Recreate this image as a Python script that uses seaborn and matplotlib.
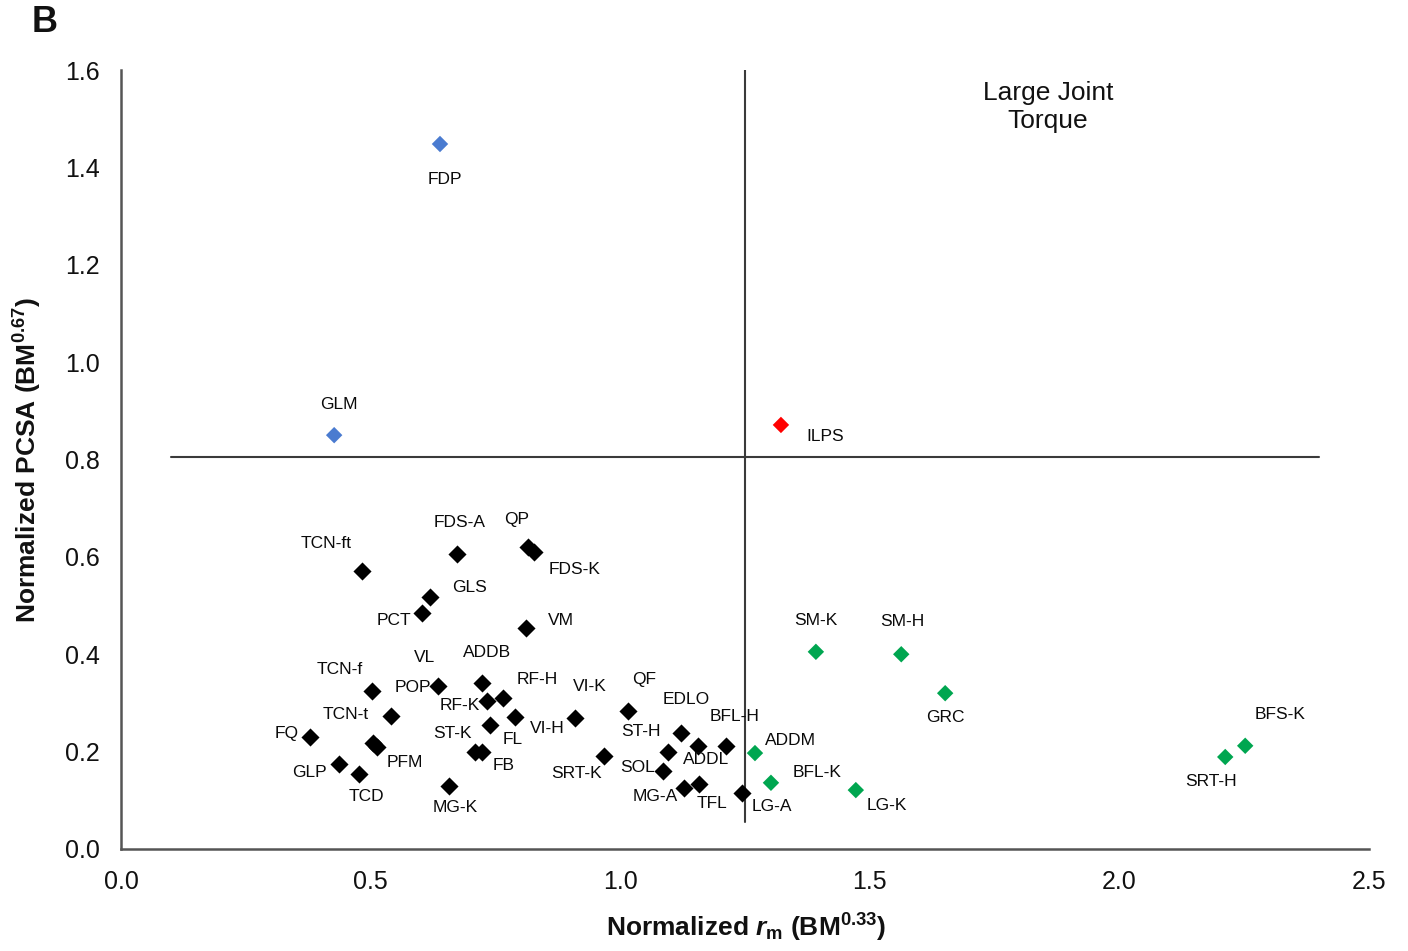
import matplotlib
matplotlib.use("Agg")
import matplotlib.pyplot as plt
import seaborn as sns
import pandas as pd

# ---------------- data ----------------
black_names = ["TCN-ft", "FDS-A", "QP", "FDS-K", "GLS", "PCT", "VM", "VL", "ADDB", "TCN-f",
               "RF-K", "RF-H", "POP", "VI-H", "FL", "VI-K", "FQ", "TCN-t", "PFM", "ST-K",
               "FB", "GLP", "TCD", "MG-K", "SRT-K", "QF", "EDLO", "ADDL", "ST-H", "BFL-H",
               "SOL", "MG-A", "TFL", "LG-A"]
black_rm = [0.483, 0.673, 0.815, 0.827, 0.619, 0.603, 0.811, 0.635, 0.723, 0.503,
            0.733, 0.765, 0.541, 0.789, 0.739, 0.909, 0.379, 0.505, 0.513, 0.709,
            0.723, 0.437, 0.477, 0.657, 0.968, 1.016, 1.122, 1.156, 1.096, 1.212,
            1.086, 1.128, 1.158, 1.244]
black_pcsa = [0.571, 0.606, 0.620, 0.610, 0.518, 0.485, 0.454, 0.335, 0.341, 0.325,
              0.304, 0.310, 0.273, 0.271, 0.255, 0.269, 0.230, 0.218, 0.209, 0.199,
              0.199, 0.175, 0.154, 0.129, 0.191, 0.283, 0.238, 0.212, 0.199, 0.212,
              0.160, 0.125, 0.133, 0.115]

green_names = ["SM-K", "SM-H", "GRC", "ADDM", "BFL-K", "LG-K", "SRT-H", "BFS-K"]
green_rm = [1.392, 1.563, 1.651, 1.270, 1.302, 1.472, 2.212, 2.252]
green_pcsa = [0.405, 0.400, 0.320, 0.197, 0.136, 0.121, 0.189, 0.212]

blue_names = ["FDP", "GLM"]
blue_rm = [0.639, 0.427]
blue_pcsa = [1.448, 0.850]

red_names = ["ILPS"]
red_rm = [1.322]
red_pcsa = [0.871]

x_ticks = [0.0, 0.5, 1.0, 1.5, 2.0, 2.5]
y_ticks = [0.0, 0.2, 0.4, 0.6, 0.8, 1.0, 1.2, 1.4, 1.6]

# threshold lines
rm_threshold = 1.25
pcsa_threshold = 0.805

# label offsets (pixels: right, down)
label_offsets = {
    "TCN-ft": (-36, -27), "FDS-A": (3, -31), "QP": (-11, -28), "FDS-K": (41, 17),
    "GLS": (39, -9), "PCT": (-28, 8), "VM": (35, -7), "VL": (-13, -28), "ADDB": (5, -30),
    "TCN-f": (-32, -21), "RF-K": (-27, 5), "RF-H": (34, -19), "POP": (22, -29),
    "VI-H": (32, 11), "FL": (23, 15), "VI-K": (15, -32), "FQ": (-24, -4),
    "TCN-t": (-27, -28), "PFM": (28, 15), "ST-K": (-22, -19), "FB": (22, 13),
    "GLP": (-30, 9), "TCD": (7, 22), "MG-K": (6, 21), "SRT-K": (-28, 17),
    "QF": (16, -32), "EDLO": (5, -34), "ADDL": (8, 14), "ST-H": (-27, -21),
    "BFL-H": (9, -29), "SOL": (-26, -4), "MG-A": (-29, 8), "TFL": (13, 19),
    "LG-A": (30, 13),
    "SM-K": (0, -31), "SM-H": (1, -33), "GRC": (0, 24), "ADDM": (35, -13),
    "BFL-K": (46, -10), "LG-K": (31, 15), "SRT-H": (-14, 25), "BFS-K": (35, -31),
    "FDP": (5, 35), "GLM": (5, -31), "ILPS": (44, 12),
}

# ---------------- build table ----------------
rows = []
for grp, names, xs, ys in [("black", black_names, black_rm, black_pcsa),
                           ("green", green_names, green_rm, green_pcsa),
                           ("blue", blue_names, blue_rm, blue_pcsa),
                           ("red", red_names, red_rm, red_pcsa)]:
    for n, xv, yv in zip(names, xs, ys):
        rows.append({"group": grp, "name": n, "rm": xv, "pcsa": yv})
df = pd.DataFrame(rows)

palette = {"black": "#000000", "green": "#00A650", "blue": "#4A7BD0", "red": "#FF0000"}

# ---------------- style ----------------
sns.set_style("white")
plt.rcParams["font.family"] = ["Liberation Sans", "DejaVu Sans"]
plt.rcParams["mathtext.fontset"] = "custom"
plt.rcParams["mathtext.rm"] = "Liberation Sans:bold"
plt.rcParams["mathtext.bf"] = "Liberation Sans:bold"
plt.rcParams["mathtext.it"] = "Liberation Sans:italic:bold"

fig = plt.figure(figsize=(14.08, 9.51), dpi=100)
ax = fig.add_axes([121 / 1408, 1 - 849 / 951, 1248 / 1408, 779 / 951])

spine_col = "#555555"
line_col = "#3a3a3a"

# threshold lines
ax.plot([rm_threshold, rm_threshold], [0.055, 1.6], color=line_col, lw=1.5, zorder=1)
ax.plot([0.1, 2.4], [pcsa_threshold, pcsa_threshold], color=line_col, lw=1.5, zorder=1)

sns.scatterplot(data=df[df.group == "black"], x="rm", y="pcsa", color=palette["black"],
                marker="D", s=85, linewidth=0, ax=ax, zorder=3, legend=False)
sns.scatterplot(data=df[df.group != "black"], x="rm", y="pcsa", hue="group",
                palette=palette, marker="D", s=70, linewidth=0, ax=ax, zorder=3,
                legend=False)

px2pt = 0.72
for _, r in df.iterrows():
    dx, dy = label_offsets[r["name"]]
    ax.annotate(r["name"], (r["rm"], r["pcsa"]), xytext=(dx * px2pt, -dy * px2pt),
                textcoords="offset points", ha="center", va="center",
                fontsize=12.5, color="#0a0a0a", zorder=4)

ax.text(1.857, 1.524, "Large Joint\nTorque", ha="center", va="center",
        fontsize=19, linespacing=1.2, color="#111111")

ax.set_xlim(0, 2.5)
ax.set_ylim(0, 1.6)
ax.set_xticks(x_ticks)
ax.set_yticks(y_ticks)
ax.set_xticklabels([f"{v:.1f}" for v in x_ticks])
ax.set_yticklabels([f"{v:.1f}" for v in y_ticks])

for s in ["top", "right"]:
    ax.spines[s].set_visible(False)
for s in ["left", "bottom"]:
    ax.spines[s].set_color(spine_col)
    ax.spines[s].set_linewidth(1.8)
ax.tick_params(axis="both", direction="out", length=7, width=1.5, color=spine_col,
               labelsize=18, labelcolor="#111111", pad=8)

ax.set_xlabel(r"Normalized $r_{\mathrm{m}}$ (BM$^{0.33}$)", fontsize=19,
              fontweight="bold", color="#111111")
ax.set_ylabel(r"Normalized PCSA (BM$^{0.67}$)", fontsize=19,
              fontweight="bold", color="#111111")
ax.xaxis.set_label_coords(0.5008, -0.080)
ax.yaxis.set_label_coords(-0.062, 0.5)

fig.text(45 / 1408, 1 - 22 / 951, "B", fontsize=26, fontweight="bold",
         ha="center", va="center", color="#111111")

fig.savefig("out.png", dpi=100)
